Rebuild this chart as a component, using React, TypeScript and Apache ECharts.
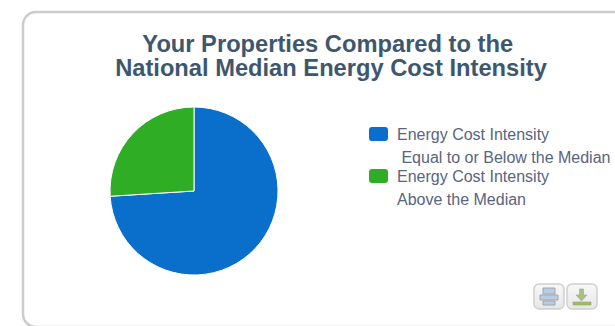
import React, { useEffect, useRef } from "react";
import * as echarts from "echarts";

const titleText = "Your Properties Compared to the\u00a0\nNational Median Energy Cost Intensity";
const seriesNames = ["Energy Cost Intensity ", "Energy Cost Intensity"];
const secondLines = [" Equal to or Below the Median", "Above the Median"];
const seriesValues = [74, 26];
const seriesColors = ["#0a6ecb", "#2fae25"];

export default function App() {
  const ref = useRef<HTMLDivElement>(null);
  useEffect(() => {
    document.body.style.margin = "0";
    document.body.style.overflow = "hidden";
    const chart = echarts.init(ref.current!, undefined, { renderer: "svg" });
    const font = "'Liberation Sans', Arial, sans-serif";
    const textColor = "#59647f";
    const button = (x: number) => ({
      type: "rect",
      shape: { x, y: 284, width: 30, height: 25, r: 5 },
      style: {
        fill: new echarts.graphic.LinearGradient(0, 0, 0, 1, [
          { offset: 0, color: "#f8f8f8" },
          { offset: 1, color: "#e6e6e6" },
        ]),
        stroke: "#cfcfcf",
        lineWidth: 1.5,
      },
    });
    chart.setOption({
      animation: false,
      backgroundColor: "#fff",
      title: {
        text: titleText,
        left: 326,
        top: 27,
        textAlign: "center",
        textStyle: { color: "#3e576f", fontFamily: font, fontSize: 23.7, fontWeight: "bold", lineHeight: 24 },
      },
      legend: {
        orient: "vertical",
        left: 362,
        top: 120,
        itemWidth: 21,
        itemHeight: 16,
        itemGap: 24,
        icon: "roundRect",
        selectedMode: false,
        data: seriesNames,
        textStyle: { color: textColor, fontFamily: font, fontSize: 16, padding: [0, 0, 0, 3] },
      },
      series: [
        {
          type: "pie",
          center: [194, 191],
          radius: [0, 84],
          startAngle: 90,
          clockwise: true,
          label: { show: false },
          labelLine: { show: false },
          silent: true,
          itemStyle: { borderColor: "#fff", borderWidth: 1 },
          data: seriesNames.map((name, i) => ({
            name,
            value: seriesValues[i],
            itemStyle: { color: seriesColors[i] },
          })),
        },
      ],
      graphic: [
        {
          type: "rect",
          z: -10,
          shape: { x: 23, y: 12, width: 680, height: 315, r: 13 },
          style: { fill: "#fff", stroke: "#cccccc", lineWidth: 2.5 },
        },
        ...secondLines.map((text, i) => ({
          type: "text",
          x: 397,
          y: 149 + i * 42,
          style: { text, fill: textColor, font: `16px ${font}` },
        })),
        button(534),
        button(567),
        { type: "rect", shape: { x: 543, y: 288, width: 12, height: 6 }, style: { fill: "#b5cee6", stroke: "#a5a5a5", lineWidth: 1 } },
        { type: "rect", shape: { x: 540, y: 295, width: 18, height: 5 }, style: { fill: "#b5cee6", stroke: "#a5a5a5", lineWidth: 1 } },
        { type: "rect", shape: { x: 543, y: 301, width: 12, height: 4 }, style: { fill: "#b5cee6", stroke: "#a5a5a5", lineWidth: 1 } },
        { type: "polygon", shape: { points: [[579.5, 289], [583.5, 289], [583.5, 295], [587, 295], [581.5, 301], [576, 295], [579.5, 295]] }, style: { fill: "#a9bf7e", stroke: "#a3a3a3", lineWidth: 0.6 } },
        { type: "rect", shape: { x: 573, y: 302, width: 18, height: 3 }, style: { fill: "#a3b86f", stroke: "#96a56e", lineWidth: 0.6 } },
      ],
    });
    return () => chart.dispose();
  }, []);
  return <div ref={ref} style={{ width: 615, height: 326 }} />;
}
